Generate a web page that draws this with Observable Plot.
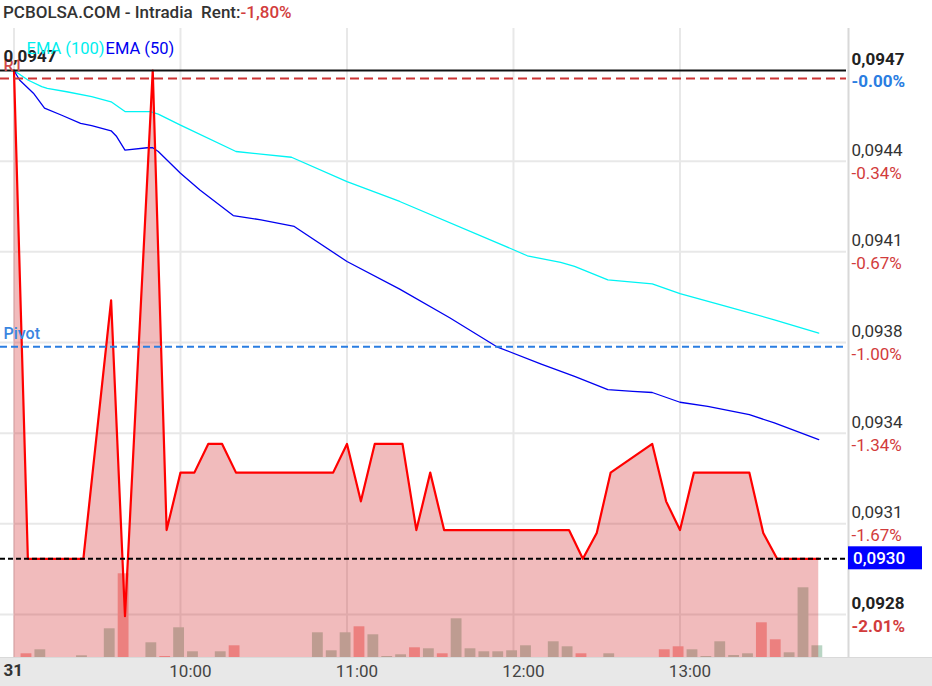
<!DOCTYPE html>
<html>
<head>
<meta charset="utf-8">
<script src="https://cdn.jsdelivr.net/npm/d3@7"></script>
<script src="https://cdn.jsdelivr.net/npm/@observablehq/plot@0.6"></script>
<style>
  body { margin: 0; background: #fff; font-family: Roboto, "Noto Sans", sans-serif; }
  #wrap { position: relative; width: 932px; height: 686px; overflow: hidden; background: #fff; }
  #title { position: absolute; left: 3px; top: 3px; font-size: 17px; line-height: 18px; font-weight: 500; color: #333; white-space: pre; }
  #title .neg { color: #d23c3c; }
  #band { position: absolute; left: 0; top: 657px; width: 932px; height: 29px; background: #e8e8e8; border-top: 1px solid #d9d9d9; box-sizing: border-box; }
  .layer { position: absolute; left: 0; top: 28px; }
</style>
</head>
<body>
<div id="wrap">
  <div id="title">PCBOLSA.COM - Intradia  Rent:<span class="neg">-1,80%</span></div>
  <div id="band"></div>
</div>
<script>
// ---------- data (time = minutes after 9:00) ----------
const priceTimes  = [0,5,25,35,40,50,55,60,65,70,75,80,115,120,125,130,140,145,150,155,200,205,210,215,230,235,240,245,265,270,275,290];
const priceValues = [0.0947,0.0930,0.0930,0.0939,0.0928,0.0947,0.0931,0.0933,0.0933,0.0934,0.0934,0.0933,0.0933,0.0934,0.0932,0.0934,0.0934,0.0931,0.0933,0.0931,0.0931,0.0930,0.09309,0.0933,0.0934,0.0932,0.0931,0.0933,0.0933,0.09309,0.0930,0.0930];

const ema100Times  = [0,5,10,12,19,28,35,40,49,52,60,80,89,100,120,139,180,185,197,202,214,227,230,240,257,274,290];
const ema100Values = [0.094700,0.094667,0.094644,0.094638,0.094626,0.094609,0.094591,0.094557,0.094557,0.094548,0.094510,0.094418,0.094409,0.094398,0.094313,0.094244,0.094076,0.094055,0.094032,0.094018,0.093971,0.093960,0.093957,0.093923,0.093878,0.093832,0.093786];

const ema50Times  = [0,2,7,11,17,24,28,35,37,40,48,50,52,60,67,79,89,101,120,139,157,174,190,202,214,223,230,240,250,265,274,290];
const ema50Values = [0.094700,0.094667,0.094621,0.094569,0.094545,0.094516,0.094508,0.094490,0.094470,0.094423,0.094431,0.094431,0.094418,0.094342,0.094284,0.094195,0.094180,0.094157,0.094035,0.093939,0.093839,0.093738,0.093678,0.093635,0.093589,0.093583,0.093579,0.093545,0.093531,0.093502,0.093473,0.093415];

// 5-minute volume bars (end time of each interval), volume, direction
const volTimes  = [5,10,25,35,40,50,55,60,65,75,80,110,115,120,125,130,135,140,145,150,155,160,165,170,175,180,185,195,200,205,215,235,240,245,250,255,260,265,270,275,280,285,290];
const volValues = [37,77,17,287,837,147,10,297,57,57,117,247,67,247,307,227,10,27,97,87,37,387,87,57,57,67,117,157,107,37,37,77,107,77,10,157,20,37,347,177,47,697,117];
const volSides  = ["d","u","u","u","d","u","d","u","u","u","d","u","u","u","d","u","u","u","d","u","d","u","u","u","u","u","u","u","u","d","u","d","d","u","u","u","u","u","d","d","u","u","u"];

const dayHigh = 0.0947;
const r1 = 0.094672;
const pivot = 0.093738;
const lastPrice = 0.0930;

const gridPrices   = [0.094384, 0.094069, 0.093753, 0.093437, 0.093122, 0.092806];
const rightTicks   = [0.0947, 0.094384, 0.094069, 0.093753, 0.093437, 0.093122, 0.092806];
const priceLabels  = ["0,0947","0,0944","0,0941","0,0938","0,0934","0,0931","0,0928"];
const pctLabels    = ["-0.00%","-0.34%","-0.67%","-1.00%","-1.34%","-1.67%","-2.01%"];
const gridTimes    = [0, 60, 120, 180, 240];
const tickTimes    = [60, 120, 180, 240];
const timeLabels   = ["10:00","11:00","12:00","13:00"];
const dateLabel    = "31";
const lastLabel    = "0,0930";

// ---------- tables ----------
const price  = priceTimes.map((t, i) => ({t, p: priceValues[i]}));
const ema100 = ema100Times.map((t, i) => ({t, p: ema100Values[i]}));
const ema50  = ema50Times.map((t, i) => ({t, p: ema50Values[i]}));
const vols   = volTimes.map((t, i) => ({t, v: volValues[i], side: volSides[i]}));

// ---------- layout ----------
const W = 932, H = 658, MR = 86, MB = 29;
const xDomain = [-4.86, 300];
const yDomain = [0.0926564, 0.0948462];
const common = {
  width: W, height: H, marginLeft: 0, marginRight: MR, marginTop: 0, marginBottom: MB,
  style: {background: "transparent", overflow: "visible", fontFamily: "Roboto, sans-serif"}
};
const RED = "#d23c3c", BLUE = "#2a7de1";

// layer 1: grid
const grid = Plot.plot({
  ...common,
  x: {domain: xDomain, axis: null},
  y: {domain: yDomain, axis: null},
  marks: [
    Plot.ruleY(gridPrices, {stroke: "#e8e8e8", strokeWidth: 2}),
    Plot.ruleX(gridTimes, {stroke: "#e8e8e8", strokeWidth: 2})
  ]
});

// layer 2: volume
const volume = Plot.plot({
  ...common,
  x: {domain: xDomain, axis: null},
  y: {domain: [0, 6290], axis: null},
  marks: [
    Plot.rectY(vols.filter(d => d.side === "u"), {x1: d => d.t - 2.45, x2: d => d.t + 1.45, y: "v", fill: "#b9d5c4"}),
    Plot.rectY(vols.filter(d => d.side === "d"), {x1: d => d.t - 2.45, x2: d => d.t + 1.45, y: "v", fill: "#f8aeac"})
  ]
});

// layer 3: main
const n = rightTicks.length;
const main = Plot.plot({
  ...common,
  x: {domain: xDomain, axis: null},
  y: {domain: yDomain, axis: null},
  marks: [
    Plot.areaY(price, {x: "t", y1: yDomain[0], y2: "p", fill: "rgb(203,5,8)", fillOpacity: 0.27}),
    Plot.lineY(ema100, {x: "t", y: "p", stroke: "#00f4f4", strokeWidth: 1.3}),
    Plot.lineY(ema50, {x: "t", y: "p", stroke: "#0000f0", strokeWidth: 1.3}),
    Plot.lineY(price, {x: "t", y: "p", stroke: "#ff0000", strokeWidth: 2.2}),
    Plot.ruleY([dayHigh], {stroke: "#111", strokeWidth: 2}),
    Plot.ruleY([r1], {stroke: "#cc3333", strokeWidth: 2, strokeDasharray: "9,5"}),
    Plot.ruleY([pivot], {stroke: BLUE, strokeWidth: 2, strokeDasharray: "7,4"}),
    Plot.ruleY([lastPrice], {stroke: "#000", strokeWidth: 2, strokeDasharray: "5,3"}),
    Plot.ruleX([xDomain[1]], {dx: 2, stroke: "#d8d8d8", strokeWidth: 2}),
    // left labels
    Plot.text([r1], {y: d => d, text: () => "R1", frameAnchor: "left", dx: 3, dy: -13, textAnchor: "start", fontSize: 16, fontWeight: 500, fill: "#d24a4a"}),
    Plot.text([dayHigh], {y: d => d, text: () => priceLabels[0], frameAnchor: "left", dx: 3, dy: -13.5, textAnchor: "start", fontSize: 17, fontWeight: "bold", fill: "#222"}),
    Plot.text([pivot], {y: d => d, text: () => "Pivot", frameAnchor: "left", dx: 3, dy: -13, textAnchor: "start", fontSize: 16, fontWeight: 500, fill: "#3a86e0"}),
    // legend
    Plot.text(["EMA (100)"], {frameAnchor: "top-left", dx: 26, dy: 14, textAnchor: "start", fontSize: 16.5, fill: "#00eeee"}),
    Plot.text(["EMA (50)"], {frameAnchor: "top-left", dx: 105, dy: 14, textAnchor: "start", fontSize: 16.5, fill: "#0000f0"}),
    // right labels (regular)
    Plot.text(rightTicks, {filter: (d, i) => i > 0 && i < n - 1, y: d => d, text: d => priceLabels[rightTicks.indexOf(d)], frameAnchor: "right", dx: 5, dy: -11, textAnchor: "start", fontSize: 17, fill: "#333"}),
    Plot.text(rightTicks, {filter: (d, i) => i > 0 && i < n - 1, y: d => d, text: d => pctLabels[rightTicks.indexOf(d)], frameAnchor: "right", dx: 5, dy: 12, textAnchor: "start", fontSize: 17, fill: RED}),
    // right labels (bold: high / low)
    Plot.text(rightTicks, {filter: (d, i) => i === 0 || i === n - 1, y: d => d, text: d => priceLabels[rightTicks.indexOf(d)], frameAnchor: "right", dx: 5, dy: -11, textAnchor: "start", fontSize: 17, fontWeight: "bold", fill: "#222"}),
    Plot.text(rightTicks, {filter: (d, i) => i === 0, y: d => d, text: d => pctLabels[rightTicks.indexOf(d)], frameAnchor: "right", dx: 5, dy: 11, textAnchor: "start", fontSize: 17, fontWeight: "bold", fill: BLUE}),
    Plot.text(rightTicks, {filter: (d, i) => i === n - 1, y: d => d, text: d => pctLabels[rightTicks.indexOf(d)], frameAnchor: "right", dx: 5, dy: 12, textAnchor: "start", fontSize: 17, fontWeight: "bold", fill: RED}),
    // x axis
    Plot.axisX(tickTimes, {tickSize: 0, tickPadding: 0, dx: 10, dy: 7.6, fontSize: 17, fill: "#444", label: null,
      tickFormat: d => timeLabels[tickTimes.indexOf(d)]}),
    Plot.text([dateLabel], {frameAnchor: "bottom-left", dx: 3, dy: 6, lineAnchor: "top", textAnchor: "start", fontSize: 17, fontWeight: "bold", fill: "#333"})
  ]
});

// current price box, positioned with the plot's own y scale
{
  const svg = d3.select(main);
  const yy = main.scale("y").apply(lastPrice);
  const x0 = W - MR + 2;
  const g = svg.append("g");
  g.append("rect").attr("x", x0).attr("y", yy - 12).attr("width", 74).attr("height", 23).attr("fill", "#0000ff");
  g.append("text").attr("x", x0 + 5).attr("y", yy).attr("dy", "0.35em")
    .attr("text-anchor", "start")
    .attr("fill", "#fff").attr("font-size", 17).attr("font-weight", 500)
    .attr("font-family", "Roboto, sans-serif").text(lastLabel);
}

const wrap = document.getElementById("wrap");
for (const el of [grid, volume, main]) {
  el.classList.add("layer");
  wrap.appendChild(el);
}
</script>
</body>
</html>
